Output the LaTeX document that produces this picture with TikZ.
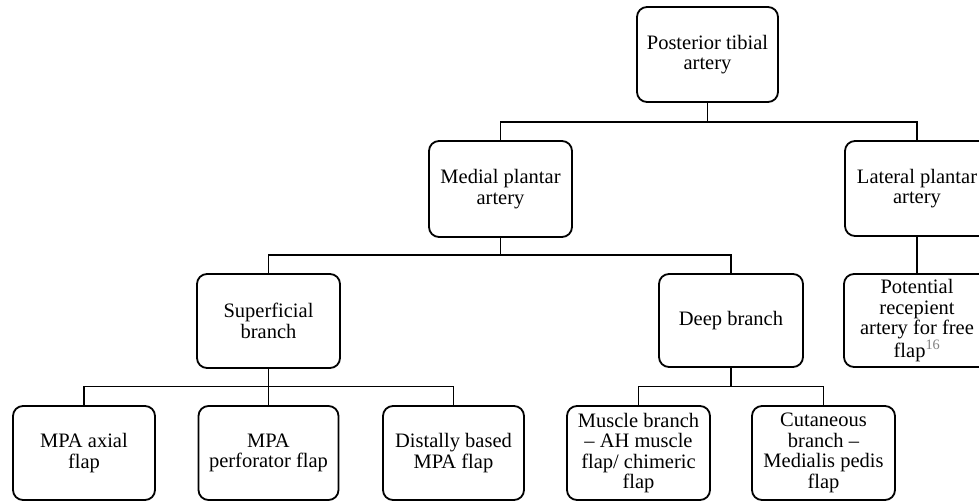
\documentclass[tikz,border=0pt]{standalone}
\usepackage{fontspec}
\setmainfont{Liberation Serif}
\tikzset{
  box/.style={draw=black, line width=1.8pt, rounded corners=10pt, inner sep=0pt,
    align=center, font=\fontsize{20.5}{20.5}\selectfont, text=black},
  conn/.style={draw=black, line width=1.8pt}
}
\begin{document}
\begin{tikzpicture}[x=1pt,y=-1pt]
\useasboundingbox (0,0) rectangle (979,502);
\clip (0,0) rectangle (979,502);
\fill[white] (0,0) rectangle (979,502);
% level 0
\node[box, minimum width=141pt, minimum height=95pt] (pt) at (707.5,54.5) {Posterior tibial\\artery};
% level 1
\node[box, minimum width=143pt, minimum height=96pt] (mpa) at (500.5,189) {Medial plantar\\artery};
\node[box, minimum width=144pt, minimum height=95pt] (lpa) at (917,188.5) {Lateral plantar\\artery};
% level 2
\node[box, minimum width=143pt, minimum height=94pt] (sup) at (268.5,321) {Superficial\\branch};
\node[box, minimum width=144pt, minimum height=93pt] (deep) at (731,320.5) {Deep branch};
\node[box, minimum width=146pt, minimum height=93pt] (pot) at (917,320.5) {Potential\\recepient\\artery for free\\flap\textsuperscript{\color{gray}16}};
% level 3
\node[box, minimum width=142pt, minimum height=94pt] (axial) at (84,453) {MPA axial\\flap};
\node[box, minimum width=140pt, minimum height=94pt] (perf) at (268.5,453) {MPA\\perforator flap};
\node[box, minimum width=141pt, minimum height=94pt] (dist) at (453.5,453) {Distally based\\MPA flap};
\node[box, minimum width=143pt, minimum height=94pt] (musc) at (638.5,453) {Muscle branch\\– AH muscle\\flap/ chimeric\\flap};
\node[box, minimum width=143pt, minimum height=94pt] (cut) at (823.5,453) {Cutaneous\\branch –\\Medialis pedis\\flap};
% buses
\coordinate (b1) at (707.5,122);
\coordinate (b2) at (500.5,255);
\coordinate (b3) at (268.5,386.5);
\coordinate (b4) at (731,386.5);
% connectors
\draw[conn] (pt.south) -- (b1);
\draw[conn] (mpa.north) |- (b1) -| (lpa.north);
\draw[conn] (mpa.south) -- (b2);
\draw[conn] (sup.north) |- (b2) -| (deep.north);
\draw[conn] (lpa.south) -- (pot.north);
\draw[conn] (sup.south) -- (perf.north);
\draw[conn] (axial.north) |- (b3) -| (dist.north);
\draw[conn] (deep.south) -- (b4);
\draw[conn] (musc.north) |- (b4) -| (cut.north);
\end{tikzpicture}
\end{document}
